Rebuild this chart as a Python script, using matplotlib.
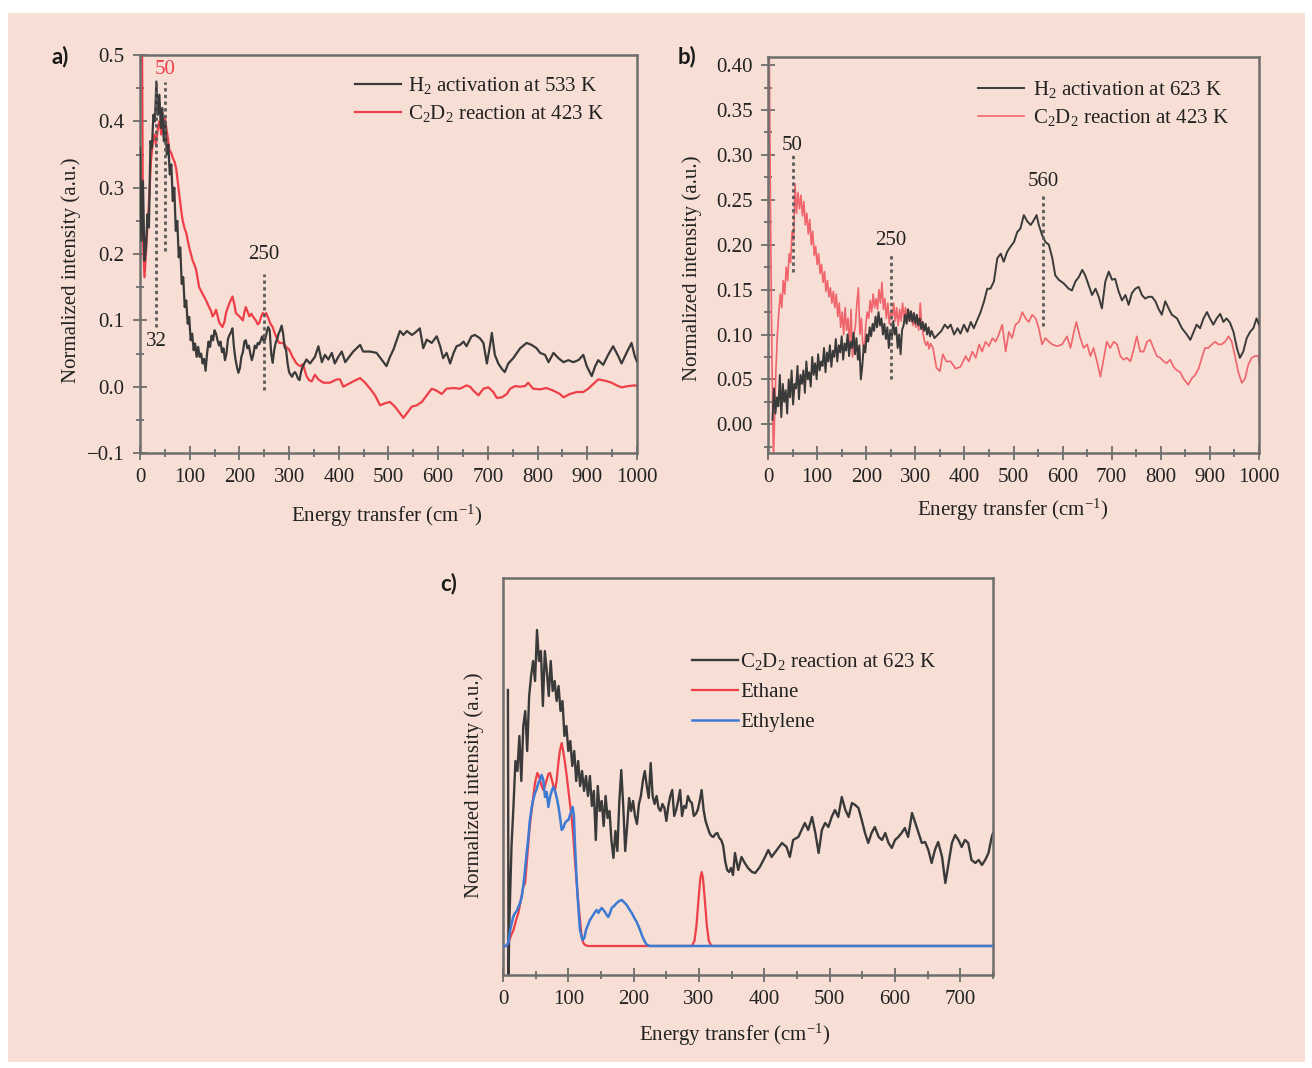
import numpy as np
import matplotlib
matplotlib.use('Agg')
import matplotlib.pyplot as plt
from matplotlib.patches import Rectangle
from matplotlib.ticker import MultipleLocator, NullLocator

plt.rcParams['font.family'] = 'Liberation Serif'
plt.rcParams['mathtext.fontset'] = 'custom'
plt.rcParams['mathtext.rm'] = 'Liberation Serif'
plt.rcParams['mathtext.it'] = 'Liberation Serif:italic'
plt.rcParams['mathtext.bf'] = 'Liberation Serif:bold'

BG = '#f7dfd5'
FRAME = '#6e6e6e'
TEXT = '#222222'
BLACK = '#3a3a3a'
RED = '#ee3f48'
RED_LIGHT = '#f0646c'
BLUE = '#3d7ad4'
FS = 15

# ---------------- (a) ----------------
# H2 activation at 533 K, sampled every 3 cm-1 from 0 up to 327 cm-1
A_H2_X0, A_H2_STEP = 0, 3
A_H2_DENSE = [
    0.36, 0.22, 0.31, 0.19, 0.21, 0.26, 0.24, 0.37, 0.36, 0.41,
    0.40, 0.46, 0.41, 0.44, 0.39, 0.42, 0.37, 0.40, 0.35, 0.365,
    0.32, 0.335, 0.28, 0.30, 0.235, 0.25, 0.195, 0.21, 0.155, 0.165,
    0.12, 0.13, 0.095, 0.105, 0.07, 0.08, 0.055, 0.065, 0.045, 0.06,
    0.045, 0.05, 0.035, 0.042, 0.024, 0.05, 0.068, 0.06, 0.077, 0.07,
    0.085, 0.08, 0.07, 0.062, 0.068, 0.052, 0.058, 0.04, 0.05, 0.072,
    0.078, 0.082, 0.088, 0.06, 0.042, 0.03, 0.021, 0.028, 0.045, 0.052,
    0.068, 0.07, 0.058, 0.062, 0.05, 0.04, 0.048, 0.062, 0.058, 0.066,
    0.064, 0.07, 0.076, 0.068, 0.072, 0.082, 0.09, 0.085, 0.05, 0.036,
    0.055, 0.066, 0.072, 0.08, 0.085, 0.092, 0.08, 0.06, 0.055, 0.035,
    0.022, 0.018, 0.015, 0.02, 0.022, 0.018, 0.012, 0.01, 0.022, 0.03,
]
A_H2_TAIL = [
    (335, 0.041), (342, 0.035), (352, 0.045), (359, 0.061), (366, 0.037),
    (372, 0.048), (379, 0.041), (386, 0.051), (392, 0.035), (399, 0.045),
    (406, 0.053), (413, 0.037), (419, 0.043), (429, 0.053), (443, 0.063),
    (449, 0.053), (463, 0.053), (476, 0.051), (486, 0.041), (496, 0.031),
    (503, 0.045), (510, 0.056), (517, 0.071), (523, 0.084), (530, 0.078),
    (537, 0.084), (547, 0.078), (553, 0.081), (563, 0.088), (570, 0.058),
    (577, 0.071), (587, 0.066), (597, 0.076), (604, 0.061), (610, 0.043),
    (617, 0.051), (624, 0.035), (631, 0.051), (637, 0.061), (644, 0.063),
    (651, 0.068), (657, 0.061), (667, 0.076), (674, 0.078), (684, 0.073),
    (691, 0.066), (698, 0.035), (704, 0.061), (708, 0.081), (714, 0.048),
    (721, 0.035), (728, 0.027), (734, 0.022), (741, 0.035), (751, 0.043),
    (765, 0.058), (778, 0.066), (788, 0.063), (798, 0.058), (805, 0.051),
    (815, 0.048), (822, 0.037), (832, 0.051), (842, 0.043), (852, 0.037),
    (862, 0.040), (872, 0.037), (882, 0.040), (892, 0.048), (899, 0.031),
    (909, 0.016), (916, 0.031), (922, 0.040), (932, 0.033), (942, 0.048),
    (952, 0.061), (963, 0.045), (969, 0.035), (979, 0.051), (989, 0.066),
    (996, 0.045), (1000, 0.038),
]
# C2D2 reaction at 423 K
A_C2D2 = [
    (0, 0.56), (4, 0.55), (6, 0.22), (9, 0.165), (12, 0.20), (15, 0.24),
    (19, 0.29), (22, 0.34), (26, 0.37), (29, 0.38), (32, 0.365), (36, 0.39),
    (39, 0.40), (43, 0.38), (46, 0.39), (50, 0.405), (53, 0.39), (56, 0.375),
    (59, 0.357), (63, 0.352), (66, 0.345), (70, 0.338), (73, 0.328), (79, 0.29),
    (83, 0.265), (86, 0.25), (90, 0.238), (93, 0.232), (99, 0.21), (106, 0.19),
    (110, 0.183), (113, 0.176), (119, 0.15), (126, 0.14), (133, 0.13), (139, 0.12),
    (143, 0.114), (146, 0.106), (150, 0.11), (153, 0.116), (157, 0.104), (160, 0.096),
    (166, 0.09), (170, 0.098), (173, 0.111), (177, 0.12), (180, 0.126), (186, 0.136),
    (190, 0.124), (193, 0.111), (197, 0.108), (200, 0.106), (207, 0.10), (210, 0.112),
    (213, 0.12), (217, 0.112), (220, 0.106), (224, 0.11), (227, 0.106), (233, 0.10),
    (237, 0.094), (240, 0.096), (244, 0.106), (247, 0.111), (251, 0.108), (254, 0.111),
    (260, 0.10), (263, 0.094), (267, 0.09), (270, 0.083), (274, 0.075), (280, 0.066),
    (287, 0.066), (291, 0.063), (294, 0.06), (300, 0.056), (307, 0.045), (311, 0.04),
    (314, 0.036), (318, 0.033), (322, 0.031), (328, 0.034), (335, 0.016), (340, 0.01),
    (345.5, 0.008), (352, 0.018), (359, 0.011), (369, 0.006), (382, 0.006), (396, 0.011),
    (402.5, 0.011), (409, 0.0), (419, 0.004), (429, 0.008), (443, 0.013), (453, 0.006),
    (463, -0.003), (473, -0.013), (483, -0.028), (493, -0.025), (503, -0.023), (513, -0.030),
    (523, -0.040), (530, -0.047), (537, -0.040), (547, -0.030), (557, -0.028), (567, -0.023),
    (577, -0.013), (587, -0.003), (597, -0.006), (607, -0.011), (617, -0.003), (631, -0.002),
    (644, -0.003), (657, 0.002), (664, 0.0), (671, -0.006), (681, -0.013), (691, -0.003),
    (701, -0.001), (711, -0.008), (718, -0.017), (728, -0.016), (738, -0.011), (745, -0.003),
    (755, 0.001), (765, 0.0), (775, 0.001), (781, 0.006), (791, -0.003), (805, -0.004),
    (818, -0.002), (832, -0.006), (845, -0.011), (852, -0.016), (865, -0.011), (879, -0.008),
    (892, -0.008), (902, -0.003), (912, 0.004), (922, 0.011), (936, 0.009), (949, 0.006),
    (959, 0.002), (969, -0.001), (983, 0.001), (996, 0.002), (1000, 0.001),
]
A_PEAKS = [32, 50, 250]
A_PEAK_COLORS = [TEXT, RED, TEXT]
A_PEAK_SPANS = [(0.09, 0.46), (0.205, 0.46), (-0.005, 0.17)]
A_PEAK_TEXT_Y = [0.068, 0.478, 0.2]

# ---------------- (b) ----------------
B_H2_X0, B_H2_STEP = 9, 3
B_H2_DENSE = [
    0.005, 0.04, 0.012, 0.03, 0.02, 0.055, 0.008, 0.045, 0.025, 0.038,
    0.012, 0.05, 0.03, 0.06, 0.022, 0.045, 0.04, 0.065, 0.028, 0.055,
    0.045, 0.06, 0.035, 0.07, 0.05, 0.058, 0.042, 0.075, 0.055, 0.068,
    0.05, 0.078, 0.06, 0.07, 0.065, 0.085, 0.058, 0.08, 0.07, 0.088,
    0.064, 0.082, 0.075, 0.095, 0.07, 0.088, 0.08, 0.098, 0.072, 0.09,
    0.082, 0.1, 0.076, 0.092, 0.085, 0.102, 0.078, 0.096, 0.072, 0.088,
    0.05, 0.065, 0.088, 0.08, 0.1, 0.092, 0.108, 0.098, 0.112, 0.104,
    0.12, 0.108, 0.125, 0.11, 0.118, 0.1, 0.112, 0.095, 0.108, 0.085,
    0.105, 0.095, 0.115, 0.1, 0.108, 0.085, 0.1, 0.078, 0.105, 0.11,
    0.122, 0.112, 0.128, 0.115, 0.126, 0.114, 0.124, 0.112, 0.122, 0.11,
    0.118, 0.106, 0.114, 0.104, 0.112, 0.1, 0.108, 0.098,
]
B_H2_TAIL = [
    (333, 0.104), (339, 0.096), (346, 0.1), (353, 0.104), (360, 0.111), (366, 0.107),
    (372, 0.111), (379, 0.100), (386, 0.107), (392, 0.101), (399, 0.111), (406, 0.103),
    (413, 0.114), (419, 0.107), (426, 0.116), (433, 0.125), (440, 0.137), (446.5, 0.151),
    (453, 0.151), (460, 0.159), (467, 0.185), (474, 0.190), (480, 0.181), (487, 0.192),
    (494, 0.198), (501, 0.203), (507.5, 0.214), (514, 0.218), (521, 0.233), (528, 0.226),
    (535, 0.222), (541, 0.227), (547, 0.233), (551.5, 0.222), (558, 0.211), (565, 0.203),
    (572, 0.2), (579, 0.185), (585, 0.166), (592, 0.161), (602, 0.157), (612.5, 0.151),
    (619, 0.149), (626, 0.159), (633, 0.164), (640, 0.172), (646, 0.166), (653, 0.155),
    (660, 0.144), (667, 0.151), (673.5, 0.142), (680, 0.129), (687, 0.159), (694, 0.170),
    (700.6, 0.161), (707, 0.162), (714, 0.148), (721, 0.138), (728, 0.144), (734.5, 0.133),
    (741, 0.146), (748, 0.151), (755, 0.153), (761.6, 0.144), (768, 0.140), (775, 0.142),
    (782, 0.142), (789, 0.137), (795, 0.129), (802, 0.122), (809, 0.137), (816, 0.129),
    (822.5, 0.122), (833, 0.118), (843, 0.107), (853, 0.100), (860, 0.094), (867, 0.103),
    (873, 0.111), (880, 0.107), (887, 0.118), (894, 0.125), (900, 0.118), (907, 0.111),
    (914, 0.118), (921, 0.123), (927.5, 0.114), (934, 0.118), (941, 0.113), (948, 0.103),
    (955, 0.085), (961, 0.074), (968, 0.081), (975, 0.096), (982, 0.103), (988.5, 0.107),
    (995, 0.118), (1000, 0.111),
]
B_C2D2_HEAD = [(2, 0.45), (5, 0.24), (7, 0.12), (9, 0.03), (11, -0.04)]
B_C2D2_X0, B_C2D2_STEP = 13, 3
B_C2D2_DENSE = [
    0.0, 0.06, 0.1, 0.125, 0.145, 0.13, 0.16, 0.145, 0.175, 0.16,
    0.19, 0.18, 0.215, 0.205, 0.268, 0.235, 0.258, 0.24, 0.255, 0.232,
    0.248, 0.222, 0.235, 0.212, 0.228, 0.2, 0.215, 0.188, 0.198, 0.178,
    0.19, 0.168, 0.178, 0.158, 0.17, 0.148, 0.16, 0.142, 0.152, 0.135,
    0.148, 0.13, 0.145, 0.12, 0.135, 0.108, 0.125, 0.1, 0.13, 0.105,
    0.118, 0.085, 0.128, 0.075, 0.1, 0.11, 0.135, 0.152, 0.1, 0.118,
    0.09, 0.082, 0.11, 0.125, 0.118, 0.138, 0.125, 0.145, 0.13, 0.14,
    0.128, 0.15, 0.135, 0.158, 0.128, 0.14, 0.118, 0.135, 0.112, 0.125,
    0.118, 0.135, 0.115, 0.13, 0.11, 0.128, 0.115, 0.135, 0.118, 0.13,
    0.112, 0.128, 0.115, 0.125, 0.11, 0.122, 0.108, 0.12, 0.105, 0.135,
    0.11, 0.1, 0.092, 0.088, 0.092, 0.084, 0.09,
]
B_C2D2_TAIL = [
    (336, 0.085), (343, 0.063), (350, 0.059), (356, 0.078), (363, 0.07), (372, 0.070),
    (382, 0.062), (392, 0.064), (402.5, 0.076), (409, 0.07), (416, 0.081), (423, 0.074),
    (430, 0.089), (436, 0.081), (443, 0.092), (450, 0.087), (457, 0.096), (463.5, 0.092),
    (470, 0.1), (477, 0.111), (484, 0.081), (490.5, 0.103), (497, 0.096), (504, 0.111),
    (511, 0.114), (518, 0.125), (524.5, 0.118), (531, 0.114), (538, 0.122), (545, 0.118),
    (551.5, 0.107), (558, 0.089), (565, 0.096), (572, 0.092), (578.6, 0.089), (589, 0.087),
    (599, 0.089), (609, 0.098), (616, 0.085), (623, 0.103), (628, 0.114), (636, 0.096),
    (643, 0.085), (650, 0.089), (656.5, 0.076), (663, 0.085), (670, 0.070), (677, 0.053),
    (684, 0.074), (690, 0.092), (697, 0.085), (704, 0.092), (711, 0.089), (717.5, 0.076),
    (724, 0.072), (731, 0.074), (738, 0.070), (744.6, 0.083), (751, 0.098), (758, 0.081),
    (765, 0.081), (772, 0.092), (778.5, 0.094), (785, 0.085), (792, 0.076), (799, 0.074),
    (806, 0.070), (812, 0.068), (819, 0.072), (826, 0.064), (833, 0.060), (839.5, 0.058),
    (846, 0.051), (856, 0.044), (863, 0.051), (870, 0.055), (877, 0.062), (883.5, 0.074),
    (890, 0.085), (897, 0.085), (904, 0.089), (911, 0.092), (917, 0.089), (924, 0.089),
    (931, 0.092), (938, 0.098), (944.5, 0.092), (951, 0.076), (958, 0.058), (965, 0.046),
    (971.6, 0.051), (978, 0.066), (985, 0.074), (992, 0.076), (999, 0.076), (1000, 0.068),
]
B_PEAKS = [50, 250, 560]
B_PEAK_SPANS = [(0.17, 0.30), (0.05, 0.19), (0.11, 0.255)]
B_PEAK_TEXT_Y = [0.311, 0.205, 0.27]

# ---------------- (c) ----------------
C_RXN_HEAD = [(7.5, 2.56), (8.5, -0.35), (9.5, 0.2)]
C_RXN_X0, C_RXN_STEP = 10, 3
C_RXN_DENSE = [
    0.3, 1.0, 1.4, 1.85, 1.75, 2.1, 1.65, 2.2, 2.35, 1.95,
    2.5, 2.7, 2.85, 2.65, 3.16, 2.85, 2.95, 2.4, 2.95, 2.75,
    2.5, 2.85, 2.55, 2.65, 2.45, 2.6, 2.35, 2.45, 2.1, 2.2,
    1.95, 2.05, 1.8, 1.95, 1.65, 1.85, 1.6, 1.75, 1.55, 1.7,
    1.5, 1.7, 1.4, 1.55, 1.06, 1.6, 1.35, 1.45, 1.2, 1.5,
    1.28, 1.35, 1.05, 0.88, 1.15, 0.95, 1.45, 1.76, 1.4, 0.95,
    1.2, 1.48, 1.35, 1.45, 1.3, 1.22, 1.42, 1.5, 1.65, 1.75,
    1.6, 1.48, 1.83, 1.5, 1.42, 1.5, 1.38, 1.35, 1.42, 1.38,
    1.25, 1.4, 1.5, 1.56, 1.3, 1.36, 1.45, 1.56, 1.3, 1.4,
    1.38, 1.5, 1.45, 1.43, 1.3, 1.32, 1.36, 1.45, 1.56, 1.36,
    1.25, 1.19, 1.13, 1.1, 1.09, 1.12, 1.13, 1.08, 1.06, 1.0,
    0.85, 0.76, 0.74, 0.78,
]
C_RXN_TAIL = [
    (352, 0.71), (355, 0.93), (360, 0.76), (365, 0.89), (370, 0.83), (375, 0.78),
    (381, 0.74), (386, 0.73), (393, 0.79), (401, 0.89), (406, 0.96), (411, 0.89),
    (419, 0.96), (427, 1.03), (434, 0.99), (439, 0.89), (444, 1.06), (452, 1.09),
    (457, 1.16), (462, 1.23), (467, 1.16), (473, 1.29), (478, 1.13), (483, 0.93),
    (488, 1.16), (493, 1.23), (498, 1.19), (503, 1.29), (508, 1.36), (513, 1.29),
    (518.5, 1.49), (524, 1.36), (529, 1.29), (534, 1.43), (539, 1.41), (544, 1.38),
    (549, 1.26), (554, 1.13), (559, 1.03), (564, 1.13), (569, 1.19), (575, 1.09),
    (580, 1.06), (585, 1.13), (590, 1.03), (595, 0.98), (600, 1.06), (605, 1.09),
    (610, 1.13), (615, 1.18), (620, 1.09), (626, 1.33), (631, 1.23), (636, 1.13),
    (641, 1.03), (646, 1.04), (651, 0.96), (656, 0.83), (661, 0.96), (666, 1.04),
    (672, 0.89), (677, 0.63), (682, 0.83), (687, 1.03), (692, 1.11), (697, 1.06),
    (702, 0.99), (707, 1.06), (712, 1.03), (717, 0.86), (723, 0.83), (728, 0.86),
    (733, 0.81), (738, 0.86), (743, 0.93), (748, 1.09), (750, 1.13),
]
C_ETHANE = [
    (0, 0), (5, 0), (8, 0.03), (12, 0.1), (16, 0.16), (20, 0.26), (23.5, 0.33),
    (27, 0.45), (31, 0.59), (33.7, 0.63), (36, 0.8), (38.8, 1.03), (41, 1.2),
    (43.9, 1.36), (46.5, 1.5), (49, 1.63), (52.5, 1.73), (55, 1.7), (56.6, 1.66),
    (59, 1.6), (61.7, 1.56), (64, 1.6), (66.8, 1.66), (69.5, 1.72), (71.9, 1.73),
    (74, 1.68), (76, 1.63), (78, 1.58), (79.6, 1.56), (82, 1.65), (84.7, 1.83),
    (87, 1.95), (89.8, 2.03), (92, 1.95), (94.9, 1.83), (97.5, 1.7), (100, 1.56),
    (102.5, 1.42), (105, 1.29), (107.5, 1.1), (110, 0.86), (112.5, 0.65),
    (115.3, 0.43), (118, 0.25), (120.4, 0.09), (123, 0.03), (125.5, 0.01),
    (130, 0), (289, 0), (293, 0.05), (296, 0.2), (299, 0.45), (302, 0.68),
    (304, 0.74), (306, 0.68), (309, 0.45), (312, 0.2), (315, 0.05), (319, 0), (750, 0),
]
C_ETHYLENE = [
    (0, 0), (5, 0), (8, 0.03), (10.5, 0.14), (13.3, 0.23), (16, 0.3), (18.4, 0.33),
    (21, 0.35), (23.5, 0.39), (26, 0.43), (28.6, 0.49), (31, 0.6), (33.7, 0.76),
    (36, 0.92), (38.8, 1.09), (41, 1.25), (43.9, 1.39), (46.5, 1.47), (49, 1.53),
    (51.5, 1.57), (54, 1.63), (56.6, 1.66), (59.2, 1.71), (61.7, 1.66), (64.3, 1.49),
    (66.8, 1.54), (69.4, 1.39), (71.9, 1.49), (74.5, 1.55), (77, 1.59), (79.6, 1.55),
    (82, 1.49), (84.7, 1.4), (87.2, 1.29), (89.8, 1.16), (92.3, 1.18), (94.9, 1.23),
    (97.5, 1.25), (100, 1.26), (103.6, 1.33), (106.6, 1.39), (108.5, 1.3), (110, 1.03),
    (112, 0.75), (113.8, 0.53), (116, 0.32), (117.8, 0.16), (120, 0.1), (122, 0.06),
    (124.5, 0.08), (127, 0.16), (130, 0.21), (133, 0.26), (137, 0.3), (140.8, 0.34),
    (143.4, 0.36), (146, 0.33), (148.5, 0.36), (151, 0.38), (153.6, 0.36), (156, 0.34),
    (158.7, 0.31), (161, 0.29), (163.8, 0.33), (166.3, 0.38), (170, 0.4), (174, 0.43),
    (178, 0.45), (181.6, 0.46), (185, 0.44), (189.3, 0.41), (193, 0.37), (197, 0.33),
    (201, 0.28), (204.6, 0.24), (209.7, 0.16), (213, 0.1), (215.8, 0.06), (219, 0.02),
    (221, 0.01), (225, 0), (750, 0),
]


def stitch(head, x0, step, dense, tail):
    """Join an irregular head, a uniformly sampled block and an irregular tail."""
    parts = []
    if head:
        parts.append(np.asarray(head, float))
    xd = x0 + step * np.arange(len(dense))
    parts.append(np.column_stack([xd, np.asarray(dense, float)]))
    if tail:
        parts.append(np.asarray(tail, float))
    xy = np.vstack(parts)
    return xy[:, 0], xy[:, 1]


def pairs(p):
    a = np.asarray(p, float)
    return a[:, 0], a[:, 1]


def style_axes(ax):
    ax.set_facecolor(BG)
    for s in ax.spines.values():
        s.set_color(FRAME)
        s.set_linewidth(1.8)
    ax.tick_params(which='both', direction='inout', color=FRAME, width=1.3,
                   labelsize=FS, labelcolor=TEXT)
    ax.tick_params(which='major', length=10, pad=6)
    ax.tick_params(which='minor', length=6)
    ax.tick_params(top=False, right=False)


def peak_marks(ax, xs, spans, text_y, colors):
    for x, (y0, y1), ty, c in zip(xs, spans, text_y, colors):
        ax.plot([x, x], [y0, y1], ls=(0, (1.2, 1.2)), lw=2.0, color='#5a5a5a',
                solid_capstyle='butt', zorder=4)
        ax.text(x, ty, str(x), ha='center', va='center', fontsize=FS, color=c, zorder=5)


fig = plt.figure(figsize=(13.12, 10.68), dpi=100)
fig.patch.set_facecolor('white')
fig.patches.append(Rectangle((8 / 1312, 1 - 1062 / 1068), 1297 / 1312, 1049 / 1068,
                             transform=fig.transFigure, facecolor=BG,
                             edgecolor='none', zorder=-10))

ax_a = fig.add_axes([0.1067, 0.5758, 0.3788, 0.3727])
ax_b = fig.add_axes([0.5854, 0.5758, 0.3742, 0.3708])
ax_c = fig.add_axes([0.3834, 0.0871, 0.3735, 0.3717])

# --- panel a
style_axes(ax_a)
x, y = stitch(None, A_H2_X0, A_H2_STEP, A_H2_DENSE, A_H2_TAIL)
ax_a.plot(x, y, color=BLACK, lw=1.6, label='H$_2$ activation at 533 K', zorder=3)
x, y = pairs(A_C2D2)
ax_a.plot(x, y, color=RED, lw=1.6, label='C$_2$D$_2$ reaction at 423 K', zorder=2)
peak_marks(ax_a, A_PEAKS, A_PEAK_SPANS, A_PEAK_TEXT_Y, A_PEAK_COLORS)
ax_a.set_xlim(0, 1000)
ax_a.set_ylim(-0.1, 0.5)
ax_a.xaxis.set_major_locator(MultipleLocator(100))
ax_a.xaxis.set_minor_locator(MultipleLocator(50))
ax_a.yaxis.set_major_locator(MultipleLocator(0.1))
ax_a.yaxis.set_minor_locator(MultipleLocator(0.05))
ax_a.set_yticklabels(['\u22120.1' if abs(v + 0.1) < 1e-9 else f'{v:.1f}'
                      for v in ax_a.get_yticks()])
ax_a.set_xlabel('Energy transfer (cm$^{-1}$)', fontsize=FS, color=TEXT)
ax_a.set_ylabel('Normalized intensity (a.u.)', fontsize=FS, color=TEXT)
ax_a.xaxis.set_label_coords(0.497, -0.125)
ax_a.yaxis.set_label_coords(-0.118, 0.46)
leg = ax_a.legend(loc='upper left', bbox_to_anchor=(0.433, 0.95), frameon=False,
                  fontsize=FS, handlelength=2.2, handletextpad=0.35,
                  labelspacing=0.35, borderpad=0, borderaxespad=0)
for t in leg.get_texts():
    t.set_color(TEXT)
fig.text(52 / 1312, 1 - 57 / 1068, 'a)', fontsize=16, fontweight='bold',
         family='Lato', color='#1a1a1a', va='center', ha='left')

# --- panel b
style_axes(ax_b)
x, y = stitch(None, B_H2_X0, B_H2_STEP, B_H2_DENSE, B_H2_TAIL)
ax_b.plot(x, y, color=BLACK, lw=1.4, label='H$_2$ activation at 623 K', zorder=3)
x, y = stitch(B_C2D2_HEAD, B_C2D2_X0, B_C2D2_STEP, B_C2D2_DENSE, B_C2D2_TAIL)
ax_b.plot(x, y, color=RED_LIGHT, lw=1.2, label='C$_2$D$_2$ reaction at 423 K', zorder=2)
peak_marks(ax_b, B_PEAKS, B_PEAK_SPANS, B_PEAK_TEXT_Y, [TEXT] * 3)
ax_b.set_xlim(0, 1000)
ax_b.set_ylim(-0.032, 0.409)
ax_b.xaxis.set_major_locator(MultipleLocator(100))
ax_b.xaxis.set_minor_locator(MultipleLocator(50))
ax_b.yaxis.set_major_locator(MultipleLocator(0.05))
ax_b.yaxis.set_minor_locator(MultipleLocator(0.025))
ax_b.yaxis.set_major_formatter(plt.FuncFormatter(lambda v, p: f'{v:.2f}' if v > -0.01 else ''))
ax_b.set_xlabel('Energy transfer (cm$^{-1}$)', fontsize=FS, color=TEXT)
ax_b.set_ylabel('Normalized intensity (a.u.)', fontsize=FS, color=TEXT)
ax_b.xaxis.set_label_coords(0.499, -0.111)
ax_b.yaxis.set_label_coords(-0.134, 0.467)
leg = ax_b.legend(loc='upper left', bbox_to_anchor=(0.428, 0.945), frameon=False,
                  fontsize=FS, handlelength=2.2, handletextpad=0.45,
                  labelspacing=0.35, borderpad=0, borderaxespad=0)
for t in leg.get_texts():
    t.set_color(TEXT)
fig.text(678 / 1312, 1 - 57 / 1068, 'b)', fontsize=16, fontweight='bold',
         family='Lato', color='#1a1a1a', va='center', ha='left')

# --- panel c
style_axes(ax_c)
x, y = stitch(C_RXN_HEAD, C_RXN_X0, C_RXN_STEP, C_RXN_DENSE, C_RXN_TAIL)
ax_c.plot(x, y, color=BLACK, lw=1.7, label='C$_2$D$_2$ reaction at 623 K', zorder=2)
x, y = pairs(C_ETHANE)
ax_c.plot(x, y, color=RED, lw=1.6, label='Ethane', zorder=3)
x, y = pairs(C_ETHYLENE)
ax_c.plot(x, y, color=BLUE, lw=1.8, label='Ethylene', zorder=4)
ax_c.set_xlim(0, 750)
ax_c.set_ylim(-0.29, 3.68)
ax_c.xaxis.set_major_locator(MultipleLocator(100))
ax_c.xaxis.set_minor_locator(MultipleLocator(50))
ax_c.yaxis.set_major_locator(NullLocator())
ax_c.yaxis.set_minor_locator(NullLocator())
ax_c.set_xlabel('Energy transfer (cm$^{-1}$)', fontsize=FS, color=TEXT)
ax_c.set_ylabel('Normalized intensity (a.u.)', fontsize=FS, color=TEXT)
ax_c.xaxis.set_label_coords(0.473, -0.118)
ax_c.yaxis.set_label_coords(-0.039, 0.479)
leg = ax_c.legend(loc='upper left', bbox_to_anchor=(0.386, 0.815), frameon=False,
                  fontsize=FS, handlelength=2.2, handletextpad=0.1,
                  labelspacing=0.5, borderpad=0, borderaxespad=0)
for t in leg.get_texts():
    t.set_color(TEXT)
fig.text(440 / 1312, 1 - 584 / 1068, 'c)', fontsize=16, fontweight='bold',
         family='Lato', color='#1a1a1a', va='center', ha='left')

fig.savefig('out.png', dpi=100, facecolor=fig.get_facecolor())
